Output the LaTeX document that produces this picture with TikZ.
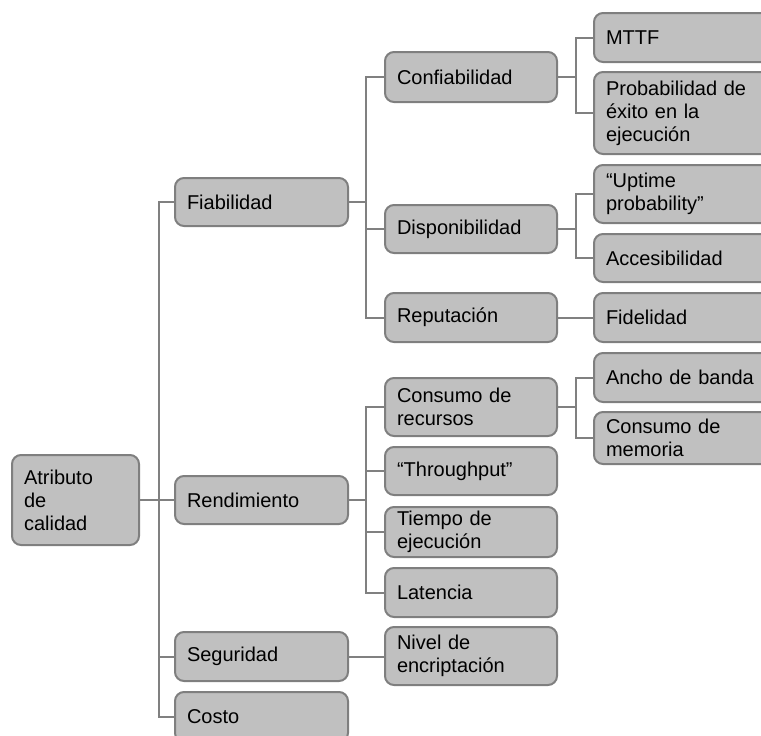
\documentclass[tikz,border=0pt]{standalone}
\usepackage{fontspec}
\setmainfont{Liberation Sans}
\definecolor{boxfill}{HTML}{C0C0C0}
\definecolor{boxline}{HTML}{7F7F7F}
\definecolor{linkline}{HTML}{808080}
\tikzset{
  attr/.style={draw=boxline, fill=boxfill, line width=2pt, rounded corners=9pt,
    anchor=north west, align=left, inner xsep=12pt, inner ysep=0pt, outer sep=0pt,
    font=\fontsize{20}{23}\selectfont, text=black},
  link/.style={draw=linkline, line width=2pt}
}
% box: name, left, top, width, height, text
\newcommand{\attrbox}[6]{%
  \node[attr, minimum width=#4pt, minimum height=#5pt, text width=#4pt-24pt] (#1) at (#2,#3) {#6};}
\begin{document}
\begin{tikzpicture}[x=1pt,y=-1pt]
\useasboundingbox (0,0) rectangle (761,736);
\clip (0,0) rectangle (761,736);

% root
\attrbox{root}{12}{455}{127}{90}{Atributo\\de\\calidad}

% first level
\attrbox{fia}{175}{178}{173}{48}{Fiabilidad}
\attrbox{ren}{175}{476}{173}{48}{Rendimiento}
\attrbox{seg}{175}{632}{173}{49}{Seguridad}
\attrbox{cos}{175}{692}{173}{50}{Costo}

% second level
\attrbox{conf}{385}{52}{172}{50}{Confiabilidad}
\attrbox{disp}{385}{205}{172}{48}{Disponibilidad}
\attrbox{rep}{385}{293}{172}{49}{Reputación}
\attrbox{cons}{385}{378}{172}{58}{Consumo de\\recursos}
\attrbox{thr}{385}{447}{172}{48}{“Throughput”}
\attrbox{tie}{385}{507}{172}{50}{Tiempo de\\ejecución}
\attrbox{lat}{385}{568}{172}{49}{Latencia}
\attrbox{niv}{385}{627}{172}{58}{Nivel de\\encriptación}

% third level
\attrbox{mttf}{594}{13}{180}{49}{MTTF}
\attrbox{prob}{594}{72}{180}{82}{Probabilidad de\\éxito en la\\ejecución}
\attrbox{upt}{594}{165}{180}{58}{“Uptime\\probability”}
\attrbox{acc}{594}{234}{180}{48}{Accesibilidad}
\attrbox{fid}{594}{293}{180}{49}{Fidelidad}
\attrbox{anc}{594}{353}{180}{49}{Ancho de banda}
\attrbox{mem}{594}{412}{180}{52}{Consumo de\\memoria}

% trunk positions
\coordinate (t0) at (159,0);
\coordinate (t1) at (366,0);
\coordinate (t2) at (576,0);

% connectors
\foreach \c in {fia,ren,seg,cos}
  \draw[link] (root.east) -- (root.east -| t0) |- (\c.west);
\foreach \c in {conf,disp,rep}
  \draw[link] (fia.east) -- (fia.east -| t1) |- (\c.west);
\foreach \c in {cons,thr,tie,lat}
  \draw[link] (ren.east) -- (ren.east -| t1) |- (\c.west);
\draw[link] (seg.east) -- (niv.west |- seg.east);
\foreach \c in {mttf,prob}
  \draw[link] (conf.east) -- (conf.east -| t2) |- (\c.west);
\foreach \c in {upt,acc}
  \draw[link] (disp.east) -- (disp.east -| t2) |- (\c.west);
\draw[link] (rep.east) -- (fid.west);
\foreach \c in {anc,mem}
  \draw[link] (cons.east) -- (cons.east -| t2) |- (\c.west);
\end{tikzpicture}
\end{document}
